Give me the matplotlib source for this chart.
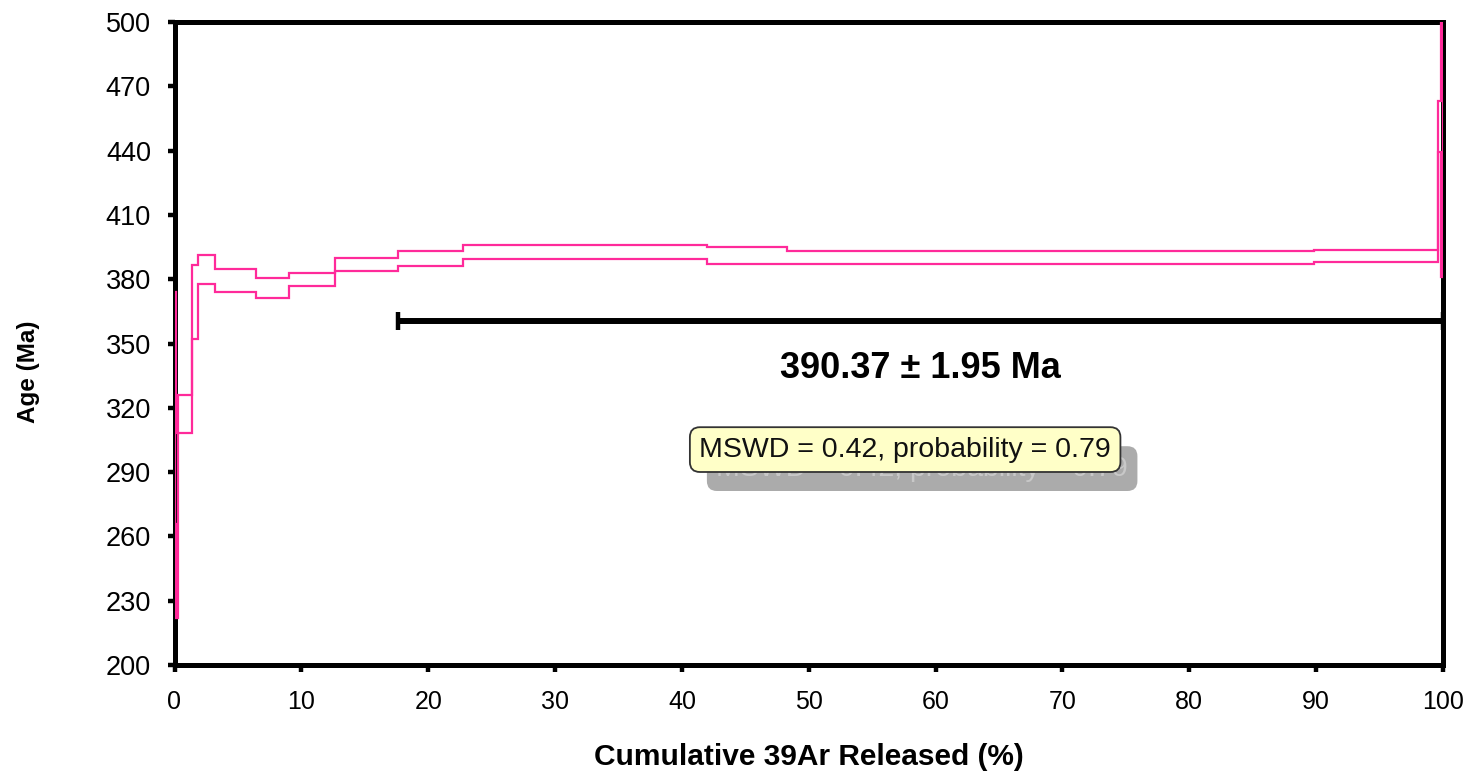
import numpy as np
import matplotlib
matplotlib.use("Agg")
import matplotlib.pyplot as plt
from matplotlib.transforms import offset_copy

# ----- Dati dello spettro di eta' (step heating 40Ar/39Ar) -----

# bordi dei gradini in % di 39Ar cumulativo rilasciato
step_edges = [0.0, 0.12, 0.30, 1.41, 1.88, 3.20, 6.40, 9.06, 12.66, 17.60,
              22.74, 41.99, 48.25, 89.85, 99.58, 99.85, 100.0]
# eta' apparente di ogni gradino e incertezza (Ma)
step_age = [319.9, 265.0, 317.0, 369.3, 384.5, 379.4, 375.8, 379.7, 386.7,
            389.8, 392.8, 391.0, 390.1, 390.7, 451.4, 515.0]
step_err = [53.9, 43.2, 8.9, 17.4, 6.8, 5.3, 4.6, 3.1, 3.1,
            3.5, 3.2, 3.9, 3.0, 2.8, 11.9, 134.0]

plateau_start = 17.60
plateau_end = 100.0
plateau_bar_y = 360.5
plateau_age = 390.37
plateau_err = 1.95
mswd = 0.42
probability = 0.79

x_ticks = np.arange(0, 101, 10)
y_ticks = np.arange(200, 501, 30)

PINK = "#ff2a9a"


def main():
    plt.rcParams["font.family"] = ["Liberation Sans", "DejaVu Sans"]

    fig = plt.figure(figsize=(14.64, 7.8), dpi=100)
    ax = fig.add_axes([174.5 / 1464, 1 - 665 / 780, (1443 - 174.5) / 1464, 643 / 780])

    edges = np.array(step_edges)
    age = np.array(step_age)
    err = np.array(step_err)
    upper = age + err
    lower = age - err

    # inviluppo superiore e inferiore dei gradini
    ax.stairs(upper, edges, color=PINK, lw=1.6, baseline=None, zorder=3)
    ax.stairs(lower, edges, color=PINK, lw=1.6, baseline=None, zorder=3)
    ax.vlines([edges[0]], lower[0], upper[0], color=PINK, lw=1.6, zorder=3)
    ax.vlines([edges[-1]], lower[-1], upper[-1], color=PINK, lw=1.6, zorder=3)

    # barra del plateau
    ax.plot([plateau_start, plateau_end], [plateau_bar_y, plateau_bar_y],
            color="black", lw=4.3, solid_capstyle="butt", zorder=4, clip_on=False)
    ax.plot([plateau_start, plateau_end], [plateau_bar_y, plateau_bar_y],
            ls="none", marker="|", ms=13, mew=3.2, color="black", zorder=4, clip_on=False)

    ax.text((plateau_start + plateau_end) / 2, 338.5,
            f"{plateau_age:.2f} \u00b1 {plateau_err:.2f} Ma",
            ha="center", va="center", fontsize=26, fontweight="bold", zorder=5)

    # riquadro MSWD con ombra
    label = f"MSWD = {mswd:.2f}, probability = {probability:.2f}"
    xm, ym = 57.6, 300.5
    box_style = "round,pad=0.33,rounding_size=0.35"
    shadow = offset_copy(ax.transData, fig=fig, x=17, y=-19, units="dots")
    ax.text(xm, ym, label, transform=shadow, ha="center", va="center",
            fontsize=20.5, color="#c8c8c8", zorder=5,
            bbox=dict(boxstyle=box_style, fc="#ababab", ec="none"))
    ax.text(xm, ym, label, ha="center", va="center", fontsize=20.5,
            color="#111111", zorder=6,
            bbox=dict(boxstyle=box_style, fc="#ffffc8", ec="#333333", lw=1.3))

    ax.set_xlim(0, 100)
    ax.set_ylim(200, 500)
    ax.set_xticks(x_ticks)
    ax.set_yticks(y_ticks)
    ax.tick_params(axis="both", direction="out", length=5, width=3.2,
                   color="black")
    ax.tick_params(axis="x", pad=13, labelsize=18)
    ax.tick_params(axis="y", pad=12, labelsize=19.5)
    for spine in ax.spines.values():
        spine.set_linewidth(3.6)
        spine.set_color("black")

    ax.set_xlabel("Cumulative 39Ar Released (%)", fontsize=21.5, fontweight="bold",
                  labelpad=21)
    ax.set_ylabel("Age (Ma)", fontsize=17.5, fontweight="bold")
    ax.yaxis.set_label_coords(-0.106, 0.456)

    plt.savefig("out.png", dpi=100)


if __name__ == '__main__':
    main()
